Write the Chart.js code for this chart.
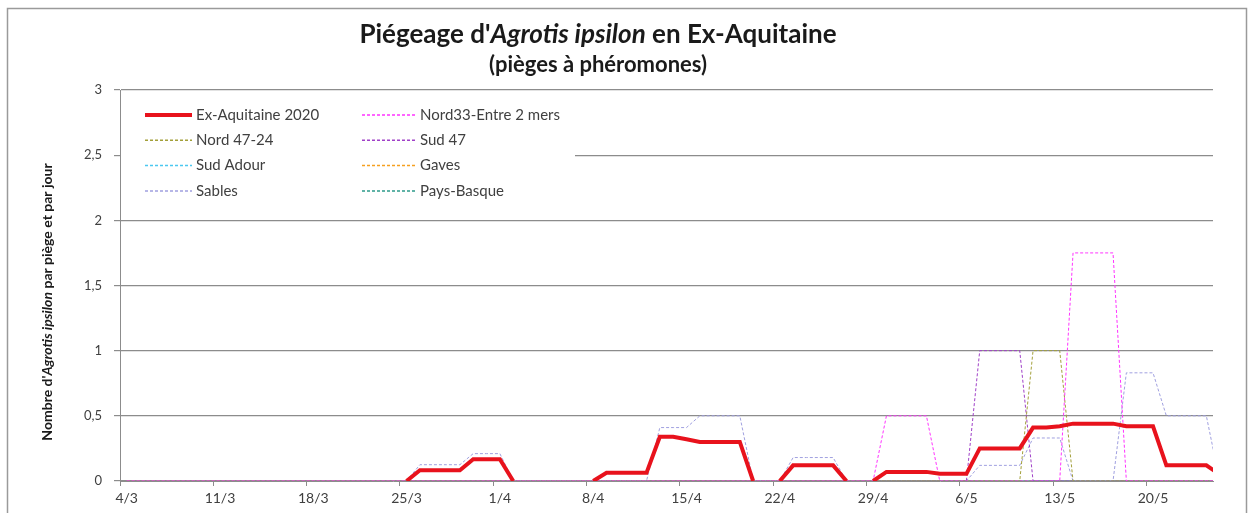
<!DOCTYPE html>
<html>
<head>
<meta charset="utf-8">
<script src="https://cdn.jsdelivr.net/npm/chart.js@4.4.1/dist/chart.umd.min.js"></script>
<style>
html, body { margin:0; padding:0; background:#fff; }
</style>
</head>
<body>
<canvas id="piege" width="1253" height="513"></canvas>
<script>
// jours de piégeage (4/3 -> 25/5)
var days = ['4/3','5/3','6/3','7/3','8/3','9/3','10/3','11/3','12/3','13/3','14/3','15/3','16/3','17/3',
	'18/3','19/3','20/3','21/3','22/3','23/3','24/3','25/3','26/3','27/3','28/3','29/3','30/3','31/3',
	'1/4','2/4','3/4','4/4','5/4','6/4','7/4','8/4','9/4','10/4','11/4','12/4','13/4','14/4','15/4',
	'16/4','17/4','18/4','19/4','20/4','21/4','22/4','23/4','24/4','25/4','26/4','27/4','28/4','29/4','30/4',
	'1/5','2/5','3/5','4/5','5/5','6/5','7/5','8/5','9/5','10/5','11/5','12/5','13/5','14/5','15/5',
	'16/5','17/5','18/5','19/5','20/5','21/5','22/5','23/5','24/5','25/5'];
var tick_labels = ['4/3','11/3','18/3','25/3','1/4','8/4','15/4','22/4','29/4','6/5','13/5','20/5'];

var ex_aquitaine = [0,0,0,0,0,0,0,0,0,0,0,0,0,0,0,0,0,0,0,0,0,0,
	0.083,0.083,0.083,0.083, 0.167,0.167,0.167, 0,0,0,0,0,0,0, 0.0625,0.0625,0.0625,0.0625,
	0.34,0.34,0.32, 0.3,0.3,0.3,0.3, 0,0,0, 0.12,0.12,0.12,0.12, 0,0,0,
	0.07,0.07,0.07,0.07, 0.055,0.055,0.055, 0.25,0.25,0.25,0.25, 0.41,0.41,0.42,
	0.44,0.44,0.44,0.44, 0.42,0.42,0.42, 0.12,0.12,0.12,0.12, 0.05];
var nord33 = [0,0,0,0,0,0,0,0,0,0,0,0,0,0,0,0,0,0,0,0,0,0,0,0,0,0,0,0,0,0,0,0,0,0,0,0,0,0,0,0,
	0,0,0,0,0,0,0,0,0,0,0,0,0,0,0,0,0, 0.5,0.5,0.5,0.5, 0,0,0,0,0,0,0,0,0,0,
	1.75,1.75,1.75,1.75, 0,0,0,0,0,0,0,0];
var nord4724 = [0,0,0,0,0,0,0,0,0,0,0,0,0,0,0,0,0,0,0,0,0,0,0,0,0,0,0,0,0,0,0,0,0,0,0,0,0,0,0,0,
	0,0,0,0,0,0,0,0,0,0,0,0,0,0,0,0,0,0,0,0,0,0,0,0,0,0,0,0, 1,1,1,
	0,0,0,0,0,0,0,0,0,0,0,0];
var sud47 = [0,0,0,0,0,0,0,0,0,0,0,0,0,0,0,0,0,0,0,0,0,0,0,0,0,0,0,0,0,0,0,0,0,0,0,0,0,0,0,0,
	0,0,0,0,0,0,0,0,0,0,0,0,0,0,0,0,0,0,0,0,0,0,0,0, 1,1,1,1,
	0,0,0,0,0,0,0,0,0,0,0,0,0,0,0];
var sud_adour = [0,0,0,0,0,0,0,0,0,0,0,0,0,0,0,0,0,0,0,0,0,0,0,0,0,0,0,0,0,0,0,0,0,0,0,0,0,0,0,0,
	0,0,0,0,0,0,0,0,0,0,0,0,0,0,0,0,0,0,0,0,0,0,0,0,0,0,0,0,0,0,0,0,0,0,0,0,0,0,0,0,0,0,0];
var gaves = [0,0,0,0,0,0,0,0,0,0,0,0,0,0,0,0,0,0,0,0,0,0,0,0,0,0,0,0,0,0,0,0,0,0,0,0,0,0,0,0,
	0,0,0,0,0,0,0,0,0,0,0,0,0,0,0,0,0,0,0,0,0,0,0,0,0,0,0,0,0,0,0,0,0,0,0,0,0,0,0,0,0,0,0];
var sables = [0,0,0,0,0,0,0,0,0,0,0,0,0,0,0,0,0,0,0,0,0,0,
	0.125,0.125,0.125,0.125, 0.21,0.21,0.21, 0,0,0,0,0,0,0,0,0,0,0, 0.41,0.41,0.41, 0.5,0.5,0.5,0.5,
	0,0,0, 0.18,0.18,0.18,0.18, 0,0,0,0,0,0,0,0,0,0, 0.12,0.12,0.12,0.12, 0.33,0.33,0.33,
	0,0,0,0, 0.83,0.83,0.83, 0.5,0.5,0.5,0.5, 0];
var pays_basque = [0,0,0,0,0,0,0,0,0,0,0,0,0,0,0,0,0,0,0,0,0,0,0,0,0,0,0,0,0,0,0,0,0,0,0,0,0,0,0,0,
	0,0,0,0,0,0,0,0,0,0,0,0,0,0,0,0,0,0,0,0,0,0,0,0,0,0,0,0,0,0,0,0,0,0,0,0,0,0,0,0,0,0,0];

var FONT = 'Lato, "Open Sans", sans-serif';
var GRIS = '#8c8c8c';

function pts(list){
	return list.map(function(v, i){ return {x:i, y:v}; });
}
function serie(label, list, color){
	return {
		label:label,
		data:pts(list),
		borderColor:color,
		backgroundColor:color,
		borderWidth:1,
		borderDash:[3,2],
		pointRadius:0,
		fill:false,
		tension:0
	};
}

// texte avec une partie en italique
function mixedText(ctx, parts, cx, cy, size){
	var w = 0;
	parts.forEach(function(p){
		ctx.font = (p[1] ? 'italic ' : '') + 'bold ' + size + 'px ' + FONT;
		w += ctx.measureText(p[0]).width;
	});
	var x = cx - w / 2;
	ctx.textAlign = 'left';
	ctx.textBaseline = 'middle';
	parts.forEach(function(p){
		ctx.font = (p[1] ? 'italic ' : '') + 'bold ' + size + 'px ' + FONT;
		ctx.fillText(p[0], x, cy);
		x += ctx.measureText(p[0]).width;
	});
}

var cadre = {
	id:'cadre',
	beforeDraw:function(chart){
		var ctx = chart.ctx;
		ctx.save();
		ctx.fillStyle = '#fff';
		ctx.fillRect(0, 0, chart.width, chart.height);
		ctx.strokeStyle = '#9a9a9a';
		ctx.lineWidth = 1.5;
		ctx.strokeRect(7.5, 8.5, 1239, 520);
		ctx.restore();
	},
	afterDraw:function(chart){
		var ctx = chart.ctx;
		ctx.save();
		ctx.fillStyle = '#1a1a1a';
		mixedText(ctx, [["Piégeage d'", false], ['Agrotis ipsilon', true], [' en Ex-Aquitaine', false]], 598, 35, 26);
		mixedText(ctx, [['(pièges à phéromones)', false]], 598, 65, 22);
		ctx.translate(47, 302);
		ctx.rotate(-Math.PI / 2);
		mixedText(ctx, [["Nombre d'", false], ['Agrotis ipsilon', true], [' par piège et par jour', false]], 0, 0, 14);
		ctx.restore();
	}
};

var legende = {
	id:'legende',
	beforeDatasetsDraw:function(chart){
		var ctx = chart.ctx;
		ctx.save();
		ctx.fillStyle = '#fff';
		ctx.fillRect(121, 93, 454, 113);
		ctx.font = '15px ' + FONT;
		ctx.textBaseline = 'middle';
		ctx.textAlign = 'left';
		chart.data.datasets.forEach(function(ds, i){
			var col = i % 2, row = Math.floor(i / 2);
			var x0 = col ? 362 : 145, len = col ? 54 : 47;
			var y = 115 + row * 25.3;
			ctx.strokeStyle = ds.borderColor;
			ctx.lineWidth = i === 0 ? ds.borderWidth : 1.5;
			ctx.setLineDash(ds.borderDash || []);
			ctx.beginPath();
			ctx.moveTo(x0, y);
			ctx.lineTo(x0 + len, y);
			ctx.stroke();
			ctx.setLineDash([]);
			ctx.fillStyle = '#404040';
			ctx.fillText(ds.label, x0 + len + 4, y);
		});
		ctx.restore();
	}
};

var red = {
	label:'Ex-Aquitaine 2020',
	data:pts(ex_aquitaine),
	borderColor:'#E8121C',
	backgroundColor:'#E8121C',
	borderWidth:4,
	pointRadius:0,
	fill:false,
	tension:0,
	segment:{
		borderColor:function(c){ return (c.p0.parsed.y === 0 && c.p1.parsed.y === 0) ? 'rgba(0,0,0,0)' : '#E8121C'; }
	}
};

var chart = new Chart(document.getElementById('piege'), {
	type:'line',
	data:{
		datasets:[
			red,
			serie('Nord33-Entre 2 mers', nord33, '#FF33FF'),
			serie('Nord 47-24', nord4724, '#A3A03A'),
			serie('Sud 47', sud47, '#A040C8'),
			serie('Sud Adour', sud_adour, '#4CC8F0'),
			serie('Gaves', gaves, '#F5A020'),
			serie('Sables', sables, '#A0A0E0'),
			serie('Pays-Basque', pays_basque, '#2E9A8A')
		]
	},
	options:{
		responsive:false,
		animation:false,
		devicePixelRatio:1,
		layout:{ padding:{ top:90, right:40, left:0, bottom:0 } },
		plugins:{ legend:{ display:false }, tooltip:{ enabled:false } },
		scales:{
			x:{
				type:'linear',
				min:-0.5,
				max:81.5,
				afterBuildTicks:function(scale){
					scale.ticks = tick_labels.map(function(l){ return {value:days.indexOf(l) - 0.5}; });
				},
				afterFit:function(scale){ scale.height = 32; },
				ticks:{
					autoSkip:false,
					maxRotation:0,
					labelOffset:6.67,
					padding:4,
					color:'#404040',
					font:{ family:FONT, size:14 },
					callback:function(v){ return days[Math.round(v + 0.5)]; }
				},
				grid:{ drawOnChartArea:false, drawTicks:true, tickLength:5, color:GRIS },
				border:{ color:GRIS }
			},
			y:{
				min:0,
				max:3,
				afterFit:function(scale){ scale.width = 120; },
				ticks:{
					stepSize:0.5,
					padding:12,
					color:'#404040',
					font:{ family:FONT, size:13 },
					callback:function(v){ return String(v).replace('.', ','); }
				},
				grid:{ color:GRIS, tickLength:6, lineWidth:1.2 },
				border:{ color:GRIS }
			}
		}
	},
	plugins:[cadre, legende]
});
</script>
</body>
</html>
